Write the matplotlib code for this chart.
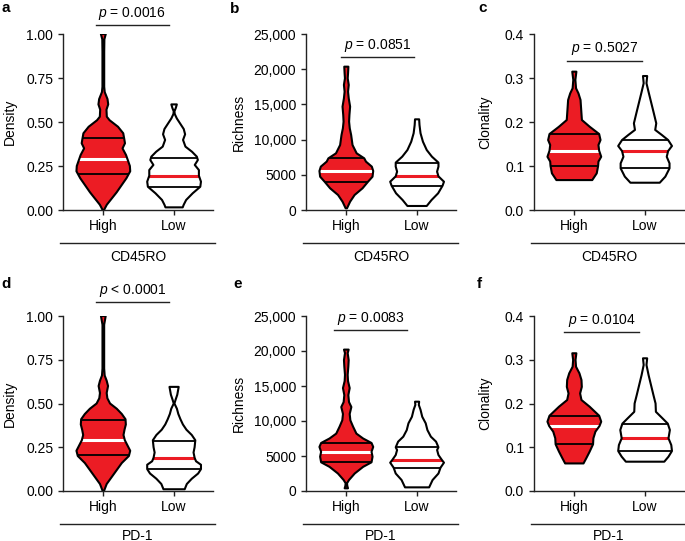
import numpy as np
import matplotlib.pyplot as plt
from matplotlib.patches import PathPatch

plt.rcParams['font.family'] = ['Liberation Sans', 'DejaVu Sans']
plt.rcParams['font.size'] = 10
plt.rcParams['mathtext.fontset'] = 'custom'
plt.rcParams['mathtext.rm'] = 'Liberation Sans'
plt.rcParams['mathtext.it'] = 'Liberation Sans:italic'

RED = '#ec1c24'
groups = ['High', 'Low']

# violin outlines: value levels and relative half-widths
a_high_y = [0.00, 0.03, 0.06, 0.10, 0.14, 0.18, 0.22, 0.25, 0.284, 0.3125, 0.35, 0.379, 0.403,
            0.436, 0.473, 0.51, 0.53, 0.57, 0.60, 0.63, 0.65, 0.67, 0.70, 0.80, 0.90, 0.97, 1.00]
a_high_w = [2, 10, 22, 38, 52, 66, 77, 76, 70, 65, 55, 62, 60,
            57, 42, 18, 10, 9, 14, 12, 8, 4, 2.5, 2.5, 2.5, 3, 7]
a_low_y = [0.015, 0.03, 0.057, 0.095, 0.132, 0.161, 0.195, 0.227, 0.256, 0.284, 0.303, 0.331,
           0.36, 0.398, 0.43, 0.46, 0.49, 0.52, 0.545, 0.56, 0.58, 0.60]
a_low_w = [25, 28, 35, 54, 76, 78, 72, 72, 60, 69, 66, 52,
           33, 26, 32, 28, 18, 8, 2, 1, 5, 8]

b_high_y = [240, 1180, 2130, 3080, 4020, 4730, 5540, 6160, 6870, 7340, 8050, 9230, 10650, 11600,
            12550, 13500, 14680, 15860, 16810, 17760, 18700, 19420, 20360]
b_high_w = [2, 11, 24, 47, 63, 76, 78, 74, 57, 52, 30, 18, 14, 10,
            8, 9, 11, 7, 5, 7, 4, 5, 6]
b_low_y = [570, 1420, 2370, 3460, 4020, 4780, 5450, 6160, 6730, 7580, 8520, 9700, 10900, 12070,
           12880]
b_low_w = [28, 42, 61, 74, 78, 62, 58, 62, 62, 43, 28, 17, 10, 7, 6]

c_high_y = [0.068, 0.0833, 0.100, 0.110, 0.121, 0.1348, 0.1477, 0.159, 0.1727, 0.189, 0.2045,
            0.227, 0.250, 0.265, 0.2765, 0.2955, 0.3144]
c_high_w = [52, 65, 69, 70, 78, 72, 70, 76, 72, 45, 22, 20, 18, 12, 5, 3, 6]
c_low_y = [0.062, 0.0758, 0.0947, 0.106, 0.121, 0.134, 0.1455, 0.159, 0.1705, 0.182, 0.197,
           0.220, 0.2425, 0.265, 0.288, 0.3045]
c_low_w = [42, 58, 70, 70, 62, 66, 77, 66, 48, 29, 32, 25, 18, 11, 4, 6]

d_high_y = [0.00, 0.04, 0.08, 0.12, 0.16, 0.20, 0.23, 0.26, 0.29, 0.32, 0.35, 0.38, 0.41, 0.44,
            0.47, 0.50, 0.53, 0.56, 0.60, 0.63, 0.66, 0.70, 0.95, 1.00]
d_high_w = [2, 10, 25, 40, 55, 76, 80, 72, 64, 60, 63, 67, 66, 55,
            40, 20, 12, 10, 14, 10, 4, 2.5, 2.5, 7]
d_low_y = [0.01, 0.04, 0.07, 0.10, 0.125, 0.15, 0.17, 0.19, 0.22, 0.25, 0.29, 0.32, 0.35, 0.38,
           0.41, 0.44, 0.47, 0.50, 0.52, 0.55, 0.595]
d_low_w = [30, 36, 50, 68, 76, 76, 62, 58, 55, 58, 60, 50, 35, 25, 18, 12, 8, 1, 4, 9, 13]

e_high_y = [380, 700, 1100, 1570, 2500, 3450, 4100, 4900, 5600, 6300, 6860, 7500, 8200, 9200,
            10100, 11000, 12000, 12700, 13700, 14700, 15700, 16600, 17800, 18700, 19700, 20200]
e_high_w = [5, 3, 2, 8, 25, 50, 75, 78, 75, 80, 75, 50, 30, 20,
            12, 10, 15, 8, 6, 10, 5, 4, 6, 7, 4, 7]
e_low_y = [520, 1570, 2500, 3330, 4050, 4430, 5140, 5860, 6240, 7050, 7760, 8700, 9670, 10600,
           11600, 12300, 12760]
e_low_w = [35, 45, 62, 68, 78, 72, 62, 58, 62, 55, 40, 30, 25, 15, 10, 5, 6]

f_high_y = [0.063, 0.0747, 0.0899, 0.1067, 0.1204, 0.1356, 0.1486, 0.1585, 0.172, 0.1927, 0.208,
            0.223, 0.238, 0.2537, 0.269, 0.284, 0.2995, 0.3148]
f_high_w = [27, 35, 45, 55, 56, 62, 74, 79, 73, 45, 21, 17, 22, 21, 15, 5, 3.5, 6]
f_low_y = [0.067, 0.0784, 0.0914, 0.105, 0.1204, 0.1394, 0.154, 0.166, 0.181, 0.200, 0.219,
           0.242, 0.265, 0.288, 0.3033]
f_low_w = [55, 67, 77, 75, 67, 71, 65, 50, 31, 30, 24, 17, 10, 4, 6]

# lower quartile, median, upper quartile
a_high_q = [0.205, 0.29, 0.41]
a_low_q = [0.13, 0.195, 0.295]
b_high_q = [4020, 5540, 7340]
b_low_q = [3460, 4780, 6730]
c_high_q = [0.100, 0.1348, 0.1727]
c_low_q = [0.0947, 0.134, 0.159]
d_high_q = [0.205, 0.291, 0.405]
d_low_q = [0.124, 0.186, 0.287]
e_high_q = [4100, 5620, 6900]
e_low_q = [3330, 4430, 6240]
f_high_q = [0.1067, 0.1486, 0.172]
f_low_q = [0.0914, 0.1204, 0.154]

p_values = ['$p$ = 0.0016', '$p$ = 0.0851', '$p$ = 0.5027',
            '$p$ < 0.0001', '$p$ = 0.0083', '$p$ = 0.0104']
markers = ['CD45RO', 'CD45RO', 'CD45RO', 'PD-1', 'PD-1', 'PD-1']
panel_letters = ['a', 'b', 'c', 'd', 'e', 'f']

density_ticks = [0, 0.25, 0.5, 0.75, 1.0]
density_labels = ['0.00', '0.25', '0.50', '0.75', '1.00']
richness_ticks = [0, 5000, 10000, 15000, 20000, 25000]
richness_labels = ['0', '5000', '10,000', '15,000', '20,000', '25,000']
clonality_ticks = [0, 0.1, 0.2, 0.3, 0.4]
clonality_labels = ['0.0', '0.1', '0.2', '0.3', '0.4']

W, H = 685, 541
fig = plt.figure(figsize=(W / 100, H / 100), dpi=100)


def add_ax(left, top, width, height):
    return fig.add_axes([left / W, (H - top - height) / H, width / W, height / H])


def draw_violin(ax, pos, y, w, quart, filled):
    stats = [dict(coords=np.array(y, float), vals=np.array(w, float), mean=quart[1],
                  median=quart[1], min=y[0], max=y[-1])]
    parts = ax.violin(stats, positions=[pos], widths=0.76, showmeans=False,
                      showextrema=False, showmedians=False)
    body = parts['bodies'][0]
    body.set_facecolor(RED if filled else 'white')
    body.set_edgecolor('none')
    body.set_alpha(1)
    body.set_zorder(2)
    path = body.get_paths()[0]
    for k, q in enumerate(quart):
        if k == 1:
            color, lw = ('white' if filled else RED), 2.2
        else:
            color, lw = 'black', 1.3
        ln, = ax.plot([pos - 0.5, pos + 0.5], [q, q], color=color, lw=lw, zorder=3,
                      solid_capstyle='butt')
        ln.set_clip_path(path, ax.transData)
    ax.add_patch(PathPatch(path, fc='none', ec='black', lw=1.5, zorder=4,
                           joinstyle='round', transform=ax.transData))


panels = [
    (a_high_y, a_high_w, a_high_q, a_low_y, a_low_w, a_low_q),
    (b_high_y, b_high_w, b_high_q, b_low_y, b_low_w, b_low_q),
    (c_high_y, c_high_w, c_high_q, c_low_y, c_low_w, c_low_q),
    (d_high_y, d_high_w, d_high_q, d_low_y, d_low_w, d_low_q),
    (e_high_y, e_high_w, e_high_q, e_low_y, e_low_w, e_low_q),
    (f_high_y, f_high_w, f_high_q, f_low_y, f_low_w, f_low_q),
]
axis_info = [
    ('Density', (0, 1.0), density_ticks, density_labels),
    ('Richness', (0, 25000), richness_ticks, richness_labels),
    ('Clonality', (0, 0.4), clonality_ticks, clonality_labels),
]
col_left = [63, 306, 534]
row_top = [34, 316]
row_height = [176, 175]
label_x = [-0.31, -0.40, -0.28]
# bracket: (x start, x end, y) in data units
brackets = [(-0.11, 0.93, 1.05), (-0.08, 0.96, 21700), (-0.10, 0.96, 0.339),
            (-0.11, 0.93, 1.08), (-0.18, 0.86, 23000), (-0.14, 0.91, 0.363)]
group_text_y = [-47, -44.5]
letter_pos = [(1, 12), (230, 13), (478, 12), (1, 288), (233, 288), (477, 288)]

for i, data in enumerate(panels):
    r, c = divmod(i, 3)
    ax = add_ax(col_left[c], row_top[r], 150, row_height[r])
    ylabel, ylim, ticks, ticklabels = axis_info[c]
    hy, hw, hq, ly, lw_, lq = data
    draw_violin(ax, 0, hy, hw, hq, True)
    draw_violin(ax, 1, ly, lw_, lq, False)

    ax.set_xlim(-0.57, 1.55)
    ax.set_ylim(*ylim)
    ax.set_yticks(ticks)
    ax.set_yticklabels(ticklabels)
    ax.set_xticks([0, 1])
    ax.set_xticklabels(groups)
    ax.set_ylabel(ylabel)
    ax.yaxis.set_label_coords(label_x[c], 0.5)
    for s in ['top', 'right']:
        ax.spines[s].set_visible(False)
    for s in ['left', 'bottom']:
        ax.spines[s].set_linewidth(1.0)
        ax.spines[s].set_color('#222222')
    ax.tick_params(length=3.6, width=1.0, color='#222222', pad=3)
    ax.tick_params(axis='y', pad=3.5)

    x0, x1, yb = brackets[i]
    ax.plot([x0, x1], [yb, yb], color='#222222', lw=1.0, clip_on=False)
    ax.annotate(p_values[i], xy=((x0 + x1) / 2, yb), xytext=(0, 2.5),
                textcoords='offset points', ha='center', va='bottom', annotation_clip=False)

    gy = -33 / row_height[r]
    ax.plot([-0.02, 1.015], [gy, gy], color='#222222', lw=1.0, transform=ax.transAxes,
            clip_on=False)
    ax.text(0.5, group_text_y[r] / row_height[r], markers[i], transform=ax.transAxes,
            ha='center', va='center')

    lx, ly = letter_pos[i]
    fig.text(lx / W, 1 - ly / H, panel_letters[i], fontsize=11, fontweight='bold',
             ha='left', va='baseline')

fig.savefig('out.png', dpi=100)
